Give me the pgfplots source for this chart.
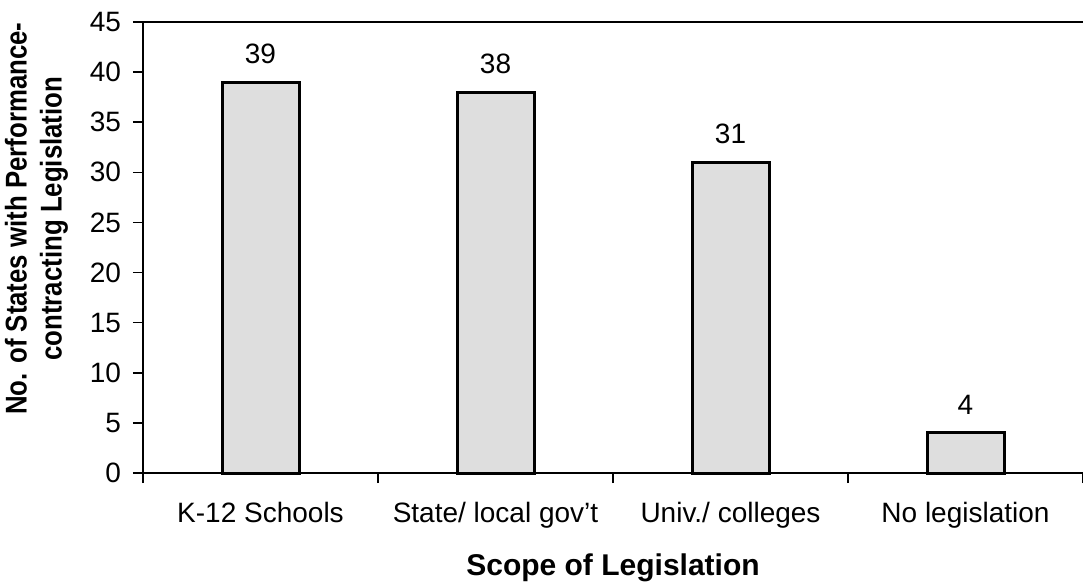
\documentclass[border=0pt]{standalone}
\usepackage{fontspec}
\setmainfont{Liberation Sans}
\usepackage{pgfplots}
\pgfplotsset{compat=1.18}

\begin{document}
\begin{tikzpicture}
\begin{axis}[
    scale only axis,
    width=470pt, height=225.5pt,
    axis lines*=left,
    axis line style={line width=1pt},
    xmin=-0.5, xmax=3.5,
    ymin=0, ymax=45,
    ytick={0,5,...,45},
    xtick={0,1,2,3},
    xticklabels={K-12 Schools,State/ local gov't,Univ./ colleges,No legislation},
    major x tick style={draw=none},
    minor xtick={-0.5,0.5,1.5,2.5,3.5},
    tick align=outside,
    major tick length=5pt,
    minor tick length=5pt,
    tick style={black, line width=0.8pt},
    /pgf/number format/assume math mode=true,
    tick label style={font=\fontsize{14}{16}\selectfont},
    xticklabel style={yshift=-6pt},
    yticklabel style={xshift=-2.5pt},
    xlabel={\textbf{Scope of Legislation}},
    ylabel={\textbf{No. of States with Performance-}\\\textbf{contracting Legislation}},
    xlabel style={font=\fontsize{15}{16.5}\selectfont, yshift=-6pt},
    ylabel style={font=\fontsize{15}{17.5}\selectfont, align=center,
                  at={(ticklabel cs:0.564)}, xscale=0.86, yshift=4pt},
    ybar,
    bar width=38.5pt,
    nodes near coords,
    nodes near coords style={font=\fontsize{14}{16}\selectfont, yshift=5pt},
    clip=false,
]
\addplot[fill=black!13, draw=black, line width=1.5pt] coordinates {(0,39) (1,38) (2,31) (3,4)};
\draw[line width=1pt] (rel axis cs:0,1) -- (rel axis cs:1,1);
\coordinate (ll) at (rel axis cs:0,0);
\coordinate (ur) at (rel axis cs:1,1);
\end{axis}
\pgfresetboundingbox
\path ([xshift=-71.5pt,yshift=-55pt]ll) rectangle ([yshift=11pt]ur);
\end{tikzpicture}
\end{document}
